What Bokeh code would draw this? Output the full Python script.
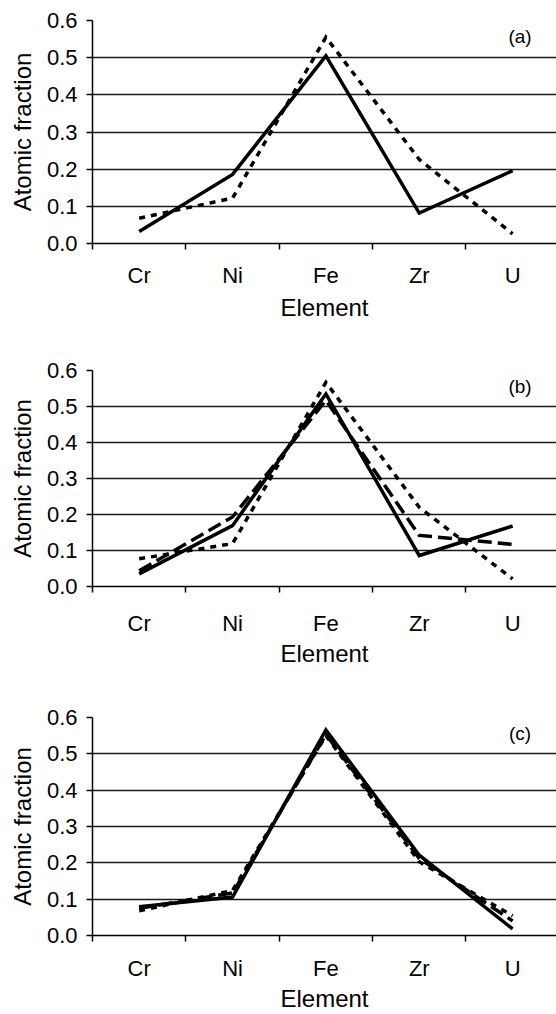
from bokeh.plotting import figure
from bokeh.models import Range1d, FixedTicker, Label
from bokeh.layouts import column
from bokeh.embed import file_html
from bokeh.resources import INLINE

elements = ["Cr", "Ni", "Fe", "Zr", "U"]
y_ticks = [0.0, 0.1, 0.2, 0.3, 0.4, 0.5, 0.6]

a_solid = [0.032, 0.186, 0.505, 0.082, 0.196]
a_dotted = [0.068, 0.122, 0.555, 0.226, 0.026]

b_solid = [0.035, 0.169, 0.535, 0.086, 0.168]
b_dashed = [0.044, 0.193, 0.517, 0.142, 0.117]
b_dotted = [0.077, 0.119, 0.567, 0.220, 0.021]

c_solid = [0.079, 0.106, 0.566, 0.221, 0.018]
c_dashed = [0.075, 0.117, 0.553, 0.212, 0.040]
c_dotted = [0.068, 0.124, 0.550, 0.203, 0.054]

FONT = "Liberation Sans"
xs = [i + 0.5 for i in range(len(elements))]


def make_panel(tag, series, height, top, bottom, lab_standoff, title_standoff):
    p = figure(width=556, height=height, output_backend="svg", toolbar_location=None,
               x_range=Range1d(0, 4.97), y_range=Range1d(0, 0.6),
               min_border_left=92, min_border_right=0,
               min_border_top=top, min_border_bottom=bottom)
    p.outline_line_color = None
    p.background_fill_color = "white"
    p.border_fill_color = "white"
    p.xgrid.grid_line_color = None
    p.ygrid.grid_line_color = "#1a1a1a"
    p.ygrid.grid_line_width = 1.5
    p.ygrid.ticker = FixedTicker(ticks=y_ticks)

    # x axis: labels at category centres, tick marks at category boundaries
    xa = p.xaxis[0]
    xa.ticker = FixedTicker(ticks=xs, minor_ticks=list(range(len(elements))))
    xa.major_label_overrides = {x: e for x, e in zip(xs, elements)}
    xa.major_tick_line_color = None
    xa.major_tick_in = 0
    xa.major_tick_out = 0
    xa.minor_tick_in = 0
    xa.minor_tick_out = 6
    xa.minor_tick_line_color = "black"
    xa.minor_tick_line_width = 1.5
    xa.axis_line_width = 1.5
    xa.axis_label = "Element"
    xa.major_label_standoff = lab_standoff
    xa.axis_label_standoff = title_standoff

    ya = p.yaxis[0]
    ya.ticker = FixedTicker(ticks=y_ticks)
    ya.major_label_overrides = {t: f"{t:.1f}" for t in y_ticks}
    ya.major_tick_in = 0
    ya.major_tick_out = 6
    ya.major_tick_line_width = 1.5
    ya.minor_tick_line_color = None
    ya.axis_line_width = 1.5
    ya.axis_label = "Atomic fraction"
    ya.major_label_standoff = 9
    ya.axis_label_standoff = 8

    for ax in (xa, ya):
        ax.major_label_text_font = FONT
        ax.major_label_text_font_size = "22px"
        ax.major_label_text_color = "black"
        ax.axis_label_text_font = FONT
        ax.axis_label_text_font_size = "24px"
        ax.axis_label_text_font_style = "normal"
        ax.axis_label_text_color = "black"
        ax.axis_line_color = "black"

    for vals, dash in series:
        p.line(xs, vals, line_color="black", line_width=3.5, line_dash=dash,
               line_join="miter")

    p.add_layout(Label(x=4.58, y=0.556, text=tag, text_font=FONT,
                       text_font_size="19px", text_align="center",
                       text_baseline="middle", text_color="black"))
    return p


pa = make_panel("(a)", [(a_solid, "solid"), (a_dotted, "6 6")],
                340, 20, 97, 13, 3)
pb = make_panel("(b)", [(b_solid, "solid"), (b_dashed, "14 6"), (b_dotted, "6 6")],
                340, 30, 94, 18, 1)
pc = make_panel("(c)", [(c_solid, "solid"), (c_dashed, "14 6"), (c_dotted, "6 6")],
                334, 37, 75, 14, 1)

layout = column(pa, pb, pc, spacing=0)
open("out.html", "w").write(file_html(layout, INLINE))
